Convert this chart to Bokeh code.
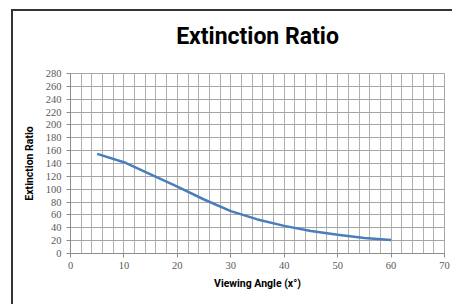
from bokeh.plotting import figure
from bokeh.models import Range1d, FixedTicker
from bokeh.embed import file_html
from bokeh.resources import INLINE

# data
angles = [5, 10, 15, 20, 25, 30, 35, 40, 45, 50, 55, 60]
ratios = [155, 142, 123, 104, 84, 66, 53, 43, 35, 29, 24, 21]
x_ticks = [0, 10, 20, 30, 40, 50, 60, 70]
y_ticks = list(range(0, 281, 20))
title_text = "Extinction Ratio"
x_label = "Viewing Angle (x°)"
y_label = "Extinction Ratio"

p = figure(width=452, height=304, output_backend="svg", toolbar_location=None,
           x_range=Range1d(0, 70), y_range=Range1d(0, 280),
           min_border_left=70, min_border_right=8, min_border_top=73, min_border_bottom=51,
           title=title_text)

p.line(angles, ratios, line_color="#4a7ebb", line_width=2.5)

p.outline_line_color = "#a6a6a6"
p.background_fill_color = "white"
p.border_fill_alpha = 0

# outer chart border (left and top edges visible), painted behind the transparent canvas
p.styles = {
    "background": ("linear-gradient(#333, #333) 11px 9px / 2px 100% no-repeat, "
                   "linear-gradient(#333, #333) 11px 9px / 100% 2px no-repeat, white"),
    "border-radius": "0",
}

bold_font = "Roboto"

p.title.text_font = bold_font
p.title.text_font_style = "bold"
p.title.text_font_size = "23px"
p.title.align = "center"
p.title.text_color = "black"
p.title.vertical_align = "top"
p.title.text_baseline = "middle"
p.title.standoff = 43

for ax in (p.xaxis[0], p.yaxis[0]):
    ax.axis_line_color = "#8c8c8c"
    ax.major_tick_line_color = "#8c8c8c"
    ax.major_tick_out = 4
    ax.major_tick_in = 0
    ax.minor_tick_line_color = None
    ax.major_label_text_font = "Liberation Serif"
    ax.major_label_text_font_size = "10.5px"
    ax.major_label_text_color = "#595959"
    ax.axis_label_text_font = bold_font
    ax.axis_label_text_font_style = "bold"
    ax.axis_label_text_font_size = "10.5px"
    ax.axis_label_text_color = "black"

p.xaxis[0].axis_label = x_label
p.yaxis[0].axis_label = y_label
p.xaxis[0].ticker = FixedTicker(ticks=x_ticks)
p.yaxis[0].ticker = FixedTicker(ticks=y_ticks)
p.xaxis[0].major_label_standoff = 4
p.yaxis[0].major_label_standoff = 5
p.xaxis[0].axis_label_standoff = 5
p.yaxis[0].axis_label_standoff = 7

p.xgrid[0].ticker = FixedTicker(ticks=list(range(0, 71, 2)))
p.xgrid[0].grid_line_color = "#b0b0b0"
p.ygrid[0].ticker = FixedTicker(ticks=y_ticks)
p.ygrid[0].grid_line_color = "#a6a6a6"

open("out.html", "w").write(file_html(p, INLINE))
